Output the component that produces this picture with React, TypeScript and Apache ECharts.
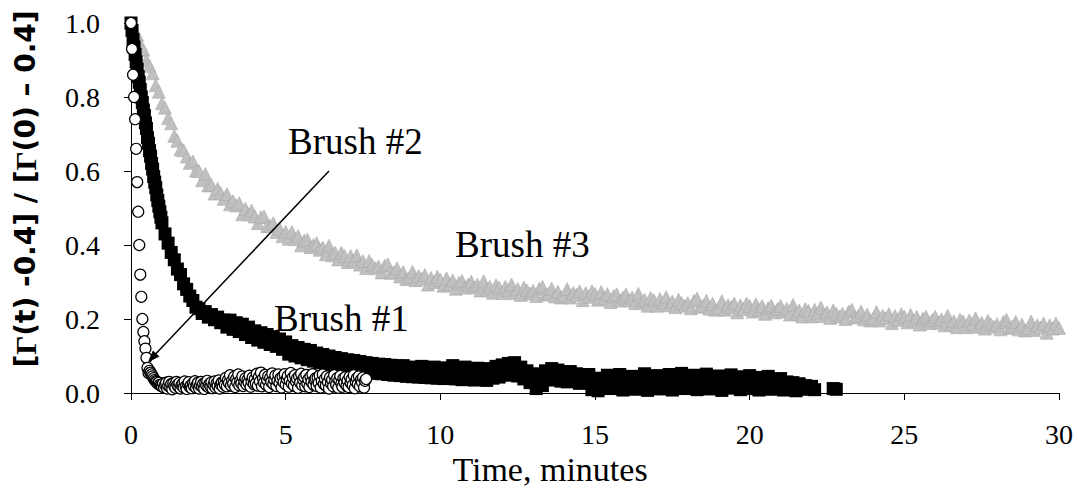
import React, { useEffect, useRef } from "react";
import * as echarts from "echarts";

// Brush #1 — normalised Γ, sampled every 2 s during the first minute
const brush1EarlyStep = 2 / 60;
const brush1Early = [
  1.0, 0.98, 0.955, 0.935, 0.915, 0.895, 0.875, 0.855, 0.84, 0.82,
  0.8, 0.785, 0.765, 0.75, 0.73, 0.715, 0.69, 0.675, 0.655, 0.64,
  0.62, 0.605, 0.585, 0.57, 0.555, 0.535, 0.52, 0.505, 0.49, 0.475,
  0.46,
];

// Brush #1 — afterwards every 0.1 min (null = no reading)
const brush1LateStart = 1.1;
const brush1LateStep = 0.1;
const brush1Late: (number | null)[] = [
  0.43, 0.405, 0.38, 0.36, 0.335, 0.32, 0.295, 0.28, 0.262, 0.25,
  0.232, 0.228, 0.215, 0.22, 0.205, 0.212, 0.198, 0.205, 0.19, 0.197,
  0.178, 0.197, 0.172, 0.19, 0.166, 0.186, 0.158, 0.178, 0.15, 0.168,
  0.143, 0.163, 0.137, 0.158, 0.131, 0.152, 0.126, 0.146, 0.118, 0.138,
  0.105, 0.128, 0.1, 0.123, 0.095, 0.118, 0.09, 0.115, 0.086, 0.108,
  0.082, 0.104, 0.077, 0.1, 0.072, 0.096, 0.07, 0.093, 0.066, 0.09,
  0.062, 0.088, 0.06, 0.085, 0.057, 0.082, 0.055, 0.08, 0.053, 0.078,
  0.052, 0.077, 0.05, 0.075, 0.048, 0.073, 0.047, 0.074, 0.045, 0.07,
  0.044, 0.068, 0.043, 0.072, 0.042, 0.066, 0.041, 0.07, 0.04, 0.065,
  0.039, 0.068, 0.043, 0.074, 0.038, 0.065, 0.036, 0.07, 0.041, 0.063,
  0.035, 0.067, 0.042, 0.06, 0.034, 0.066, 0.04, 0.072, 0.043, 0.076,
  0.048, 0.08, 0.056, 0.082, 0.046, 0.07, 0.038, 0.06, 0.028, 0.052,
  0.012, 0.045, 0.02, 0.06, 0.035, 0.066, 0.04, 0.062, 0.032, 0.055,
  0.03, 0.058, 0.038, 0.052, 0.026, 0.048, 0.034, 0.05, 0.009, 0.04,
  0.006, 0.035, 0.018, 0.048, 0.012, 0.04, 0.022, 0.05, 0.008, 0.036,
  0.015, 0.045, 0.01, 0.038, 0.024, 0.052, 0.007, 0.042, 0.018, 0.047,
  0.011, 0.039, 0.021, 0.05, 0.008, 0.044, 0.016, 0.053, 0.012, 0.037,
  0.02, 0.048, 0.009, 0.041, 0.017, 0.051, 0.011, 0.043, 0.023, 0.046,
  0.007, 0.038, 0.019, 0.049, 0.013, 0.044, 0.009, 0.04, 0.021, 0.047,
  0.012, 0.036, 0.008, 0.042, 0.018, 0.045, 0.01, 0.035, 0.015, 0.039,
  0.008, 0.03, 0.012, 0.028, 0.006, 0.025, 0.014, 0.02, 0.01, 0.018,
  0.009, null, null, null, null, null, 0.012, 0.01,
];

// Brush #2 — sampled every 2 s
const brush2Step = 2 / 60;
const brush2 = [
  1.0, 0.93, 0.86, 0.8, 0.74, 0.66, 0.57, 0.49, 0.4, 0.32,
  0.26, 0.2, 0.165, 0.14, 0.12, 0.095, 0.068, 0.054,
  0.06, 0.055, 0.05, 0.045, 0.04, 0.035, 0.032, 0.03, 0.025, 0.028, 0.022, 0.02,
  0.018, 0.025, 0.015, 0.022, 0.028, 0.012, 0.02, 0.03, 0.016, 0.024,
  0.01, 0.026, 0.019, 0.014, 0.03, 0.022, 0.017, 0.027, 0.012, 0.021,
  0.025, 0.015, 0.031, 0.018, 0.011, 0.024, 0.029, 0.016, 0.02, 0.013,
  0.026, 0.019, 0.032, 0.014, 0.023, 0.028, 0.012, 0.021, 0.03, 0.017,
  0.025, 0.011, 0.027, 0.02, 0.033, 0.016, 0.024, 0.018, 0.029, 0.013,
  0.022, 0.031, 0.015, 0.026, 0.019, 0.034, 0.012, 0.023, 0.028, 0.017,
  0.03, 0.022, 0.041, 0.018, 0.035, 0.027, 0.048, 0.02, 0.033, 0.025,
  0.044, 0.016, 0.038, 0.029, 0.05, 0.021, 0.034, 0.026, 0.045, 0.019,
  0.031, 0.04, 0.023, 0.036, 0.028, 0.047, 0.017, 0.032, 0.042, 0.024,
  0.037, 0.026, 0.052, 0.02, 0.043, 0.031, 0.055, 0.018, 0.039, 0.028,
  0.049, 0.022, 0.035, 0.045, 0.016, 0.041, 0.03, 0.053, 0.024, 0.036,
  0.047, 0.019, 0.033, 0.05, 0.027, 0.04, 0.015, 0.044, 0.029, 0.051,
  0.023, 0.038, 0.046, 0.017, 0.034, 0.054, 0.026, 0.042, 0.02, 0.048,
  0.031, 0.039, 0.014, 0.045, 0.028, 0.052, 0.021, 0.036, 0.043, 0.018,
  0.049, 0.025, 0.037, 0.016, 0.044, 0.03, 0.051, 0.022, 0.035, 0.04,
  0.019, 0.041, 0.027, 0.047, 0.015, 0.033, 0.05, 0.024, 0.038, 0.02,
  0.045, 0.029, 0.012, 0.042, 0.026, 0.036, 0.018, 0.048, 0.031, 0.022,
  0.04, 0.014, 0.035, 0.046, 0.025, 0.017, 0.039, 0.028, 0.043, 0.02,
  0.034, 0.016, 0.044, 0.027, 0.037, 0.021, 0.048, 0.013, 0.031, 0.04,
  0.024, 0.045, 0.018, 0.036, 0.029, 0.042, 0.015, 0.033, 0.038,
];

// Brush #3 — sampled every 0.1 min
const brush3Step = 0.1;
const brush3 = [
  1.0, 0.976, 0.968, 0.941, 0.928, 0.899, 0.884, 0.864, 0.832, 0.814,
  0.783, 0.771, 0.743, 0.729, 0.695, 0.682, 0.658, 0.656, 0.639, 0.622,
  0.626, 0.601, 0.6, 0.575, 0.592, 0.561, 0.562, 0.539, 0.552, 0.54,
  0.525, 0.538, 0.51, 0.518, 0.507, 0.513, 0.483, 0.498, 0.483, 0.493,
  0.477, 0.459, 0.475, 0.477, 0.451, 0.451, 0.459, 0.435, 0.444, 0.424,
  0.436, 0.417, 0.435, 0.416, 0.424, 0.399, 0.412, 0.415, 0.394, 0.4,
  0.405, 0.387, 0.393, 0.375, 0.398, 0.372, 0.379, 0.361, 0.379, 0.371,
  0.354, 0.37, 0.358, 0.372, 0.347, 0.356, 0.338, 0.357, 0.346, 0.337,
  0.342, 0.326, 0.344, 0.348, 0.325, 0.326, 0.337, 0.315, 0.327, 0.308,
  0.312, 0.328, 0.305, 0.316, 0.309, 0.319, 0.293, 0.311, 0.3, 0.314,
  0.306, 0.29, 0.31, 0.294, 0.304, 0.282, 0.298, 0.303, 0.285, 0.293,
  0.301, 0.285, 0.293, 0.277, 0.302, 0.279, 0.287, 0.271, 0.291, 0.285,
  0.27, 0.287, 0.278, 0.293, 0.27, 0.281, 0.265, 0.285, 0.277, 0.269,
  0.276, 0.262, 0.282, 0.287, 0.266, 0.269, 0.282, 0.261, 0.274, 0.258,
  0.263, 0.281, 0.258, 0.271, 0.265, 0.275, 0.251, 0.27, 0.26, 0.275,
  0.268, 0.252, 0.273, 0.257, 0.267, 0.246, 0.262, 0.267, 0.25, 0.258,
  0.266, 0.25, 0.258, 0.243, 0.268, 0.244, 0.252, 0.236, 0.257, 0.251,
  0.236, 0.254, 0.244, 0.259, 0.237, 0.247, 0.232, 0.252, 0.243, 0.236,
  0.243, 0.229, 0.249, 0.255, 0.233, 0.236, 0.249, 0.228, 0.241, 0.225,
  0.23, 0.248, 0.225, 0.237, 0.232, 0.242, 0.218, 0.237, 0.227, 0.242,
  0.235, 0.22, 0.24, 0.225, 0.235, 0.214, 0.23, 0.236, 0.218, 0.227,
  0.235, 0.22, 0.228, 0.212, 0.238, 0.214, 0.223, 0.207, 0.227, 0.222,
  0.207, 0.225, 0.215, 0.231, 0.208, 0.218, 0.203, 0.223, 0.214, 0.207,
  0.214, 0.2, 0.22, 0.225, 0.204, 0.207, 0.22, 0.199, 0.212, 0.196,
  0.201, 0.219, 0.196, 0.209, 0.203, 0.213, 0.189, 0.208, 0.198, 0.213,
  0.206, 0.191, 0.211, 0.196, 0.206, 0.185, 0.201, 0.206, 0.189, 0.197,
  0.206, 0.19, 0.199, 0.183, 0.209, 0.185, 0.194, 0.178, 0.198, 0.193,
  0.178, 0.196, 0.186, 0.202, 0.179, 0.19, 0.174, 0.195, 0.186, 0.179,
  0.186, 0.172, 0.192, 0.198, 0.176, 0.18, 0.192, 0.172, 0.185, 0.169,
  0.175, 0.193, 0.17, 0.183, 0.177, 0.188, 0.163, 0.183, 0.174, 0.188,
  0.176,
];

// Annotation arrow for Brush #2: tail and head in (minutes, ratio)
const arrowTail = [6.4, 0.6];
const arrowHead = [0.68, 0.095];

const seriesNames = ["Brush #1", "Brush #2", "Brush #3"];

function sampled(start: number, step: number, values: (number | null)[]) {
  const out: number[][] = [];
  values.forEach((v, i) => {
    if (v !== null) out.push([+(start + i * step).toFixed(4), v]);
  });
  return out;
}

const SERIF = "'Liberation Serif', 'Times New Roman', serif";
const SANS_BOLD = "'DejaVu Sans', Arial, sans-serif";

export default function App() {
  const ref = useRef<HTMLDivElement>(null);

  useEffect(() => {
    if (!ref.current) return;
    const chart = echarts.init(ref.current, undefined, { renderer: "svg" });

    const brush1Data = [
      ...sampled(0, brush1EarlyStep, brush1Early),
      ...sampled(brush1LateStart, brush1LateStep, brush1Late),
    ];
    const brush2Data = sampled(0, brush2Step, brush2);
    const brush3Data = sampled(0, brush3Step, brush3);

    chart.setOption({
      animation: false,
      backgroundColor: "#ffffff",
      grid: { left: 131, right: 19, top: 23, bottom: 109, containLabel: false },
      xAxis: {
        type: "value",
        min: 0,
        max: 30,
        interval: 5,
        name: "Time, minutes",
        nameLocation: "middle",
        nameGap: 53,
        nameTextStyle: {
          fontFamily: SERIF,
          fontSize: 34,
          color: "#000",
          padding: [0, 90, 0, 0],
        },
        axisLine: { show: true, lineStyle: { color: "#000", width: 1 } },
        axisTick: { show: true, length: 7, lineStyle: { color: "#000", width: 1 } },
        axisLabel: { fontFamily: SERIF, fontSize: 28, color: "#000", margin: 27 },
        splitLine: { show: false },
      },
      yAxis: {
        type: "value",
        min: 0,
        max: 1,
        interval: 0.2,
        axisLine: { show: true, lineStyle: { color: "#000", width: 1 } },
        axisTick: { show: true, length: 7, lineStyle: { color: "#000", width: 1 } },
        axisLabel: {
          fontFamily: SERIF,
          fontSize: 28,
          color: "#000",
          margin: 31,
          formatter: (v: number) => v.toFixed(1),
        },
        splitLine: { show: false },
      },
      graphic: [
        {
          type: "text",
          x: 25,
          y: 189,
          rotation: Math.PI / 2,
          style: {
            text: "[{g|Γ}(t) -0.4] / [{g|Γ}(0) – 0.4]",
            fontFamily: SANS_BOLD,
            fontWeight: "bold",
            fontSize: 28,
            fill: "#000",
            textAlign: "center",
            textVerticalAlign: "middle",
            rich: {
              g: { fontFamily: SERIF, fontWeight: "bold", fontSize: 30, fill: "#000" },
            },
          },
        },
        {
          type: "text",
          x: 288,
          y: 141,
          style: { text: seriesNames[1], font: `37px ${SERIF}`, fill: "#000", textVerticalAlign: "middle" },
        },
        {
          type: "text",
          x: 455,
          y: 244,
          style: { text: seriesNames[2], font: `37px ${SERIF}`, fill: "#000", textVerticalAlign: "middle" },
        },
        {
          type: "text",
          x: 274,
          y: 318,
          style: { text: seriesNames[0], font: `37px ${SERIF}`, fill: "#000", textVerticalAlign: "middle" },
        },
      ],
      series: [
        {
          name: seriesNames[2],
          type: "scatter",
          symbol: "triangle",
          symbolSize: 13,
          itemStyle: { color: "#c0c0c0", borderColor: "#a9a9a9", borderWidth: 0.6, opacity: 1 },
          data: brush3Data,
          silent: true,
        },
        {
          name: seriesNames[0],
          type: "scatter",
          symbol: "rect",
          symbolSize: 13,
          itemStyle: { color: "#000", opacity: 1 },
          data: brush1Data,
          silent: true,
        },
        {
          name: seriesNames[1],
          type: "scatter",
          symbol: "circle",
          symbolSize: 11,
          itemStyle: { color: "#fff", borderColor: "#000", borderWidth: 1.2, opacity: 1 },
          data: brush2Data,
          silent: true,
          markLine: {
            silent: true,
            symbol: ["none", "triangle"],
            symbolSize: [9, 12],
            label: { show: false },
            lineStyle: { color: "#000", width: 1.5, type: "solid" },
            emphasis: { disabled: true },
            data: [[{ coord: arrowTail }, { coord: arrowHead }]],
          },
        },
      ],
    });

    return () => chart.dispose();
  }, []);

  return (
    <div
      ref={ref}
      style={{ position: "absolute", left: 0, top: 0, width: 1078, height: 502, background: "#fff" }}
    />
  );
}
